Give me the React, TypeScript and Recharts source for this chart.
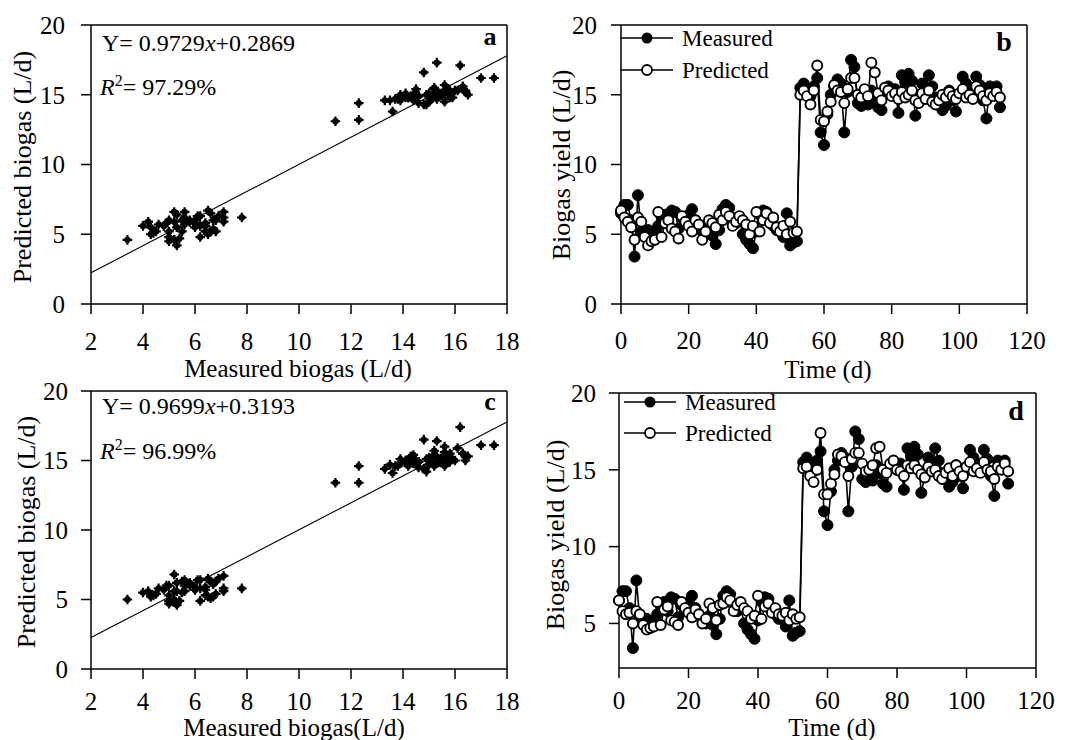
import React from 'react';
import { LineChart, Line, ScatterChart, Scatter, XAxis, YAxis, ReferenceLine } from 'recharts';

const FONT = '"Liberation Serif", "Times New Roman", serif';

// measured daily biogas yield (L/d), day 0..112
const measured = [
  6.5, 7.1, 7.1, 6.0, 3.4, 7.8, 5.2, 5.0, 5.3, 5.0,
  5.2, 5.6, 6.2, 6.4, 5.8, 6.7, 6.6, 5.4, 6.2, 5.8,
  6.4, 6.8, 6.0, 5.6, 5.2, 5.0, 5.5, 4.9, 4.3, 5.3,
  6.8, 7.1, 6.9, 6.2, 5.8, 6.1, 5.0, 4.6, 4.3, 4.0,
  5.2, 6.4, 6.7, 6.6, 6.0, 5.6, 5.3, 5.5, 4.8, 6.5,
  4.2, 4.4, 4.5, 15.5, 15.8, 15.2, 14.9, 15.6, 16.2, 12.3,
  11.4, 13.6, 15.0, 15.6, 16.1, 15.8, 12.3, 15.2, 17.5, 17.0,
  14.4, 14.2, 14.5, 14.3, 15.3, 14.8, 14.1, 13.9, 15.2, 15.6,
  15.0, 15.4, 13.7, 16.4, 15.9, 16.5, 16.0, 13.5, 14.6, 15.8,
  15.1, 16.4, 15.6, 14.8, 14.4, 13.9, 14.2, 15.3, 14.6, 13.8,
  15.0, 16.3, 15.8, 14.9, 15.3, 16.3, 15.7, 14.6, 13.3, 15.6,
  15.4, 15.6, 14.1,
];

// model prediction shown in panels a / b
const predictedB = [
  6.7, 6.2, 5.9, 5.5, 4.6, 6.2, 5.9, 4.8, 4.2, 4.5,
  4.6, 6.6, 4.8, 5.8, 6.0, 5.4, 5.2, 4.7, 6.3, 5.9,
  5.6, 5.2, 6.0, 5.7, 4.6, 5.2, 6.0, 5.8, 5.5, 6.4,
  6.0, 6.6, 6.3, 5.6, 5.9, 6.3, 6.0, 5.7, 5.0, 5.6,
  6.6, 5.2, 6.0, 6.5, 5.8, 6.2, 5.5, 5.2, 5.6, 5.0,
  5.9, 5.1, 5.2, 15.0, 15.3, 14.9, 14.3, 15.3, 17.1, 13.2,
  13.1, 13.8, 14.5, 15.7, 15.3, 15.2, 14.4, 15.4, 16.2, 16.2,
  15.0, 14.8, 15.4, 14.9, 17.3, 16.6, 15.1, 14.6, 15.5, 15.3,
  14.9, 15.1, 14.7, 15.2, 14.8, 15.0, 15.3, 14.6, 14.4, 15.1,
  14.7, 15.3, 14.5, 14.3, 14.6, 15.0, 14.8, 15.2, 14.9, 14.7,
  15.1, 15.4, 14.8, 15.0, 14.7, 15.6, 15.3, 14.9, 14.6, 15.1,
  14.9, 15.2, 14.8,
];

// model prediction shown in panels c / d
const predictedD = [
  6.5, 5.8, 5.6, 5.7, 5.0, 5.8, 5.6, 4.9, 4.6, 4.7,
  4.8, 6.4, 4.9, 5.9, 6.1, 5.2, 5.1, 4.9, 6.4, 6.0,
  5.7, 5.4, 5.9, 5.6, 5.0, 5.3, 6.3, 6.0, 5.2, 6.2,
  6.3, 6.7, 6.5, 5.8, 6.2, 6.4, 6.0, 5.8, 5.3, 5.5,
  6.8, 5.3, 6.1, 6.3, 5.7, 6.0, 5.6, 5.5, 5.7, 5.2,
  5.6, 5.3, 5.4, 15.1, 15.2, 14.6, 14.2, 15.0, 17.4, 13.4,
  13.4, 14.1, 14.7, 16.0, 15.9, 15.5, 14.6, 15.7, 16.1, 16.1,
  15.4, 14.9, 15.0, 15.3, 16.4, 16.5, 15.0, 14.8, 15.4, 15.6,
  15.0, 14.9, 14.6, 15.3, 15.1, 15.3, 15.0, 14.7, 14.5, 15.2,
  14.9, 15.0, 14.6, 14.4, 14.8, 15.1, 14.6, 15.3, 14.9, 14.6,
  15.2, 15.5, 14.9, 15.1, 14.8, 15.5, 15.0, 14.9, 14.4, 15.2,
  15.0, 15.4, 14.9,
];

const fitA = { slope: 0.9729, intercept: 0.2869, r2: '97.29%' };
const fitC = { slope: 0.9699, intercept: 0.3193, r2: '96.99%' };

const measuredTicks = [2, 4, 6, 8, 10, 12, 14, 16, 18];
const yieldTicks = [0, 5, 10, 15, 20];
const yieldTicksD = [5, 10, 15, 20];
const timeTicks = [0, 20, 40, 60, 80, 100, 120];

const seriesB = measured.map((m, i) => ({ day: i, measured: m, predicted: predictedB[i] }));
const seriesD = measured.map((m, i) => ({ day: i, measured: m, predicted: predictedD[i] }));
const scatterA = measured.map((m, i) => ({ x: m, y: predictedB[i] }));
const scatterC = measured.map((m, i) => ({ x: m, y: predictedD[i] }));

const lineStyle = { stroke: '#000', strokeWidth: 1.5 };

// serif tick labels
const XTick = ({ x, y, payload }: any) => (
  <text x={x} y={y} dy="0.71em" textAnchor="middle" fill="#000" fontSize={25} fontFamily={FONT}>
    {payload.value}
  </text>
);
const YTick = ({ x, y, payload }: any) => (
  <text x={x} y={y} dy="0.35em" textAnchor="end" fill="#000" fontSize={25} fontFamily={FONT}>
    {payload.value}
  </text>
);

const PlusDot = (props: any) => {
  const { cx, cy } = props;
  if (cx == null || cy == null) return null;
  return (
    <g>
      <circle cx={cx} cy={cy} r={3.2} fill="#000" />
      <path d={`M${cx - 4.8},${cy}H${cx + 4.8}M${cx},${cy - 4.8}V${cy + 4.8}`} stroke="#000" strokeWidth={2.2} />
    </g>
  );
};

const Txt = ({ x, y, children, size = 24, bold = false, anchor = 'left' }: any) => (
  <div
    style={{
      position: 'absolute',
      left: x,
      top: y,
      transform: anchor === 'center' ? 'translate(-50%, -50%)' : 'translateY(-50%)',
      fontFamily: FONT,
      fontSize: size,
      fontWeight: bold ? 700 : 400,
      whiteSpace: 'nowrap',
      color: '#000',
      lineHeight: 1,
    }}
  >
    {children}
  </div>
);

const VTxt = ({ x, y, children }: any) => (
  <div
    style={{
      position: 'absolute',
      left: x,
      top: y,
      transform: 'translate(-50%, -50%) rotate(-90deg)',
      fontFamily: FONT,
      fontSize: 26,
      whiteSpace: 'nowrap',
      color: '#000',
      lineHeight: 1,
    }}
  >
    {children}
  </div>
);

const LegendBox = ({ x, y, gap }: any) => (
  <div style={{ position: 'absolute', left: x, top: y }}>
    <svg width={60} height={gap + 20} style={{ position: 'absolute', left: 0, top: 0 }}>
      <line x1={0} y1={10} x2={52} y2={10} stroke="#000" strokeWidth={1.5} />
      <circle cx={26} cy={10} r={5.5} fill="#000" />
      <line x1={0} y1={10 + gap} x2={52} y2={10 + gap} stroke="#000" strokeWidth={1.5} />
      <circle cx={26} cy={10 + gap} r={5} fill="#fff" stroke="#000" strokeWidth={1.8} />
    </svg>
    <Txt x={61} y={10} size={23}>Measured</Txt>
    <Txt x={61} y={10 + gap} size={23}>Predicted</Txt>
  </div>
);

function ScatterPanel({ data, fit, margin, xTickMargin, yTickMargin }: any) {
  const seg = [
    { x: 2, y: fit.slope * 2 + fit.intercept },
    { x: 18, y: fit.slope * 18 + fit.intercept },
  ];
  return (
    <ScatterChart width={534} height={370} margin={margin}>
      <XAxis
        type="number"
        dataKey="x"
        domain={[2, 18]}
        ticks={measuredTicks}
        height={40}
        tickSize={10}
        tickMargin={xTickMargin}
        tick={XTick}
        axisLine={lineStyle}
        tickLine={lineStyle}
      />
      <YAxis
        type="number"
        dataKey="y"
        domain={[0, 20]}
        ticks={yieldTicks}
        width={60}
        tickSize={10}
        tickMargin={yTickMargin}
        tick={YTick}
        axisLine={lineStyle}
        tickLine={lineStyle}
      />
      <ReferenceLine y={20} stroke="#000" strokeWidth={1.5} />
      <ReferenceLine x={18} stroke="#000" strokeWidth={1.5} />
      <ReferenceLine segment={seg} stroke="#000" strokeWidth={1.1} />
      <Scatter data={data} shape={PlusDot} isAnimationActive={false} />
    </ScatterChart>
  );
}

function TimePanel({ data, margin, domain, ticks, xTickMargin, yTickMargin }: any) {
  return (
    <LineChart width={534} height={370} data={data} margin={margin}>
      <XAxis
        type="number"
        dataKey="day"
        domain={[0, 120]}
        ticks={timeTicks}
        height={40}
        tickSize={10}
        tickMargin={xTickMargin}
        tick={XTick}
        axisLine={lineStyle}
        tickLine={lineStyle}
      />
      <YAxis
        type="number"
        domain={domain}
        ticks={ticks}
        width={60}
        tickSize={10}
        tickMargin={yTickMargin}
        tick={YTick}
        axisLine={lineStyle}
        tickLine={lineStyle}
      />
      <ReferenceLine y={20} stroke="#000" strokeWidth={1.5} />
      <ReferenceLine x={120} stroke="#000" strokeWidth={1.5} />
      <Line
        type="linear"
        dataKey="measured"
        stroke="#000"
        strokeWidth={1.6}
        dot={{ r: 5.5, fill: '#000', stroke: '#000', strokeWidth: 1 }}
        isAnimationActive={false}
      />
      <Line
        type="linear"
        dataKey="predicted"
        stroke="#000"
        strokeWidth={1.6}
        dot={{ r: 5, fill: '#fff', stroke: '#000', strokeWidth: 1.9 }}
        isAnimationActive={false}
      />
    </LineChart>
  );
}

export default function App() {
  return (
    <div style={{ position: 'absolute', left: 0, top: 0, width: 1068, height: 740, background: '#fff', overflow: 'hidden' }}>
      <div style={{ position: 'absolute', left: 0, top: 0 }}>
        <ScatterPanel data={scatterA} fit={fitA} margin={{ top: 25, right: 27, bottom: 26, left: 31 }} xTickMargin={18} yTickMargin={16} />
      </div>
      <div style={{ position: 'absolute', left: 534, top: 0 }}>
        <TimePanel data={seriesB} margin={{ top: 25, right: 41, bottom: 26, left: 27 }} domain={[0, 20]} ticks={yieldTicks} xTickMargin={17} yTickMargin={14} />
      </div>
      <div style={{ position: 'absolute', left: 0, top: 370 }}>
        <ScatterPanel data={scatterC} fit={fitC} margin={{ top: 21, right: 27, bottom: 31, left: 31 }} xTickMargin={13} yTickMargin={13} />
      </div>
      <div style={{ position: 'absolute', left: 534, top: 370 }}>
        <TimePanel data={seriesD} margin={{ top: 23, right: 32, bottom: 32, left: 25 }} domain={[2.1, 20]} ticks={yieldTicksD} xTickMargin={13} yTickMargin={13} />
      </div>

      {/* annotations, panel a */}
      <Txt x={102} y={43}>Y= 0.9729<i>x</i>+0.2869</Txt>
      <Txt x={100} y={86}><i>R</i><sup style={{ fontSize: 16 }}>2</sup>= {fitA.r2}</Txt>
      <Txt x={490} y={37} size={26} bold anchor="center">a</Txt>
      <VTxt x={23} y={167}>Predicted biogas (L/d)</VTxt>
      <Txt x={298} y={368} size={25} anchor="center">Measured biogas (L/d)</Txt>

      {/* panel b */}
      <LegendBox x={621} y={28} gap={32} />
      <Txt x={1004} y={42} size={28} bold anchor="center">b</Txt>
      <VTxt x={562} y={165}>Biogas yield (L/d)</VTxt>
      <Txt x={828} y={369} size={25} anchor="center">Time (d)</Txt>

      {/* panel c */}
      <Txt x={102} y={406}>Y= 0.9699<i>x</i>+0.3193</Txt>
      <Txt x={100} y={450}><i>R</i><sup style={{ fontSize: 16 }}>2</sup>= {fitC.r2}</Txt>
      <Txt x={490} y={402} size={26} bold anchor="center">c</Txt>
      <VTxt x={27} y={532}>Predicted biogas (L/d)</VTxt>
      <Txt x={294} y={727} size={25} anchor="center">Measured biogas(L/d)</Txt>

      {/* panel d */}
      <LegendBox x={624} y={392} gap={31} />
      <Txt x={1016} y={411} size={28} bold anchor="center">d</Txt>
      <VTxt x={556} y={535}>Biogas yield (L/d)</VTxt>
      <Txt x={832} y={727} size={25} anchor="center">Time (d)</Txt>
    </div>
  );
}
